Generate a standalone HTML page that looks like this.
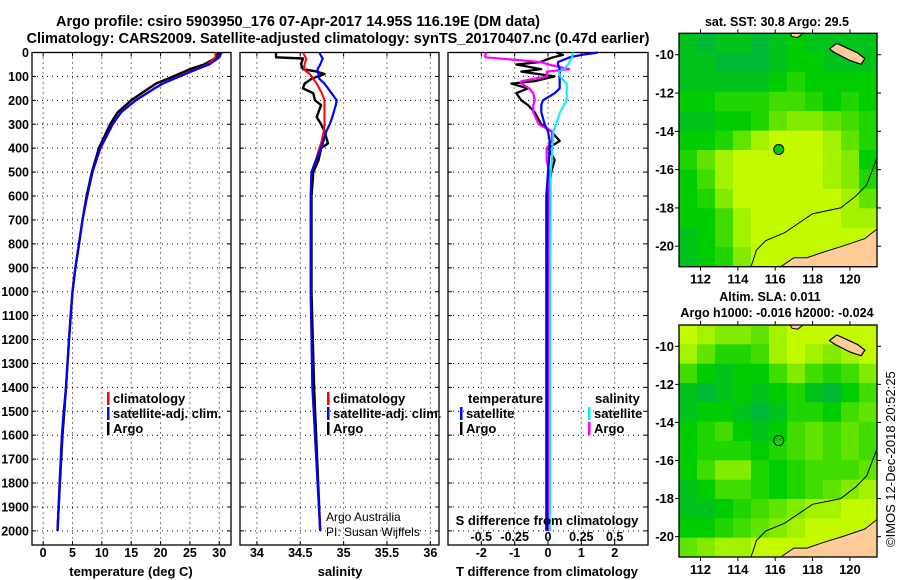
<!DOCTYPE html>
<html><head><meta charset="utf-8">
<style>
html,body{margin:0;padding:0;background:#fff;}
svg{display:block;font-family:"Liberation Sans",Arial,sans-serif;}
</style></head>
<body>
<svg id="c" width="900" height="580" viewBox="0 0 900 580" xmlns="http://www.w3.org/2000/svg">
<text x="298" y="26" text-anchor="middle" font-size="14.5" font-weight="bold" textLength="484" lengthAdjust="spacingAndGlyphs">Argo profile: csiro 5903950_176 07-Apr-2017 14.95S 116.19E (DM data)</text>
<text x="338" y="43" text-anchor="middle" font-size="14.5" font-weight="bold" textLength="623" lengthAdjust="spacingAndGlyphs">Climatology: CARS2009. Satellite-adjusted climatology: synTS_20170407.nc (0.47d earlier)</text>
<g id="g"></g>
</svg>
<script>
// ---------- data ----------
const depthT = [0,20,50,70,100,130,150,200,250,300,400,500,600,700,800,900,1000,1100,1200,1400,1500,1600,1800,2000];
const tempArgo = [29.8,29.6,27.4,25,22.2,19.2,18.0,15.0,12.7,11.4,9.5,8.3,7.4,6.7,6.1,5.5,5.0,4.7,4.4,3.9,3.6,3.3,2.85,2.45];
const tempClim = [29.4,29.3,28.0,26,23.0,20.3,18.9,15.7,13.2,11.9,9.8,8.4,7.5,6.7,6.1,5.5,5.0,4.7,4.4,3.9,3.5,3.2,2.8,2.5];
const tempSat  = [30.4,30.0,28.3,26.2,23.3,20.4,19.0,15.8,13.3,11.8,9.7,8.4,7.5,6.7,6.1,5.5,5.0,4.7,4.4,3.9,3.5,3.2,2.8,2.45];

const depthS = [0,20,25,50,70,80,90,110,130,150,170,200,220,270,300,330,380,400,450,500,600,1000,1400,2000];
const salArgo = [34.22,34.22,34.53,34.51,34.53,34.69,34.78,34.63,34.55,34.53,34.65,34.67,34.74,34.69,34.74,34.78,34.82,34.74,34.71,34.65,34.63,34.63,34.66,34.73];
const salClim = [34.53,34.56,34.57,34.55,34.54,34.57,34.61,34.65,34.69,34.72,34.75,34.78,34.78,34.78,34.78,34.77,34.74,34.72,34.68,34.63,34.62,34.62,34.64,34.73];
const salSat  = [34.72,34.75,34.76,34.73,34.70,34.70,34.71,34.72,34.78,34.82,34.86,34.92,34.91,34.87,34.84,34.80,34.76,34.74,34.68,34.63,34.62,34.62,34.64,34.73];

const depthD = [0,10,20,40,50,70,80,100,120,130,150,170,200,220,250,300,330,370,400,450,500,600,1000,1400,1800,2000];
const tdiffArgo = [0.25,0.45,0.15,-0.25,-0.95,-0.2,-0.8,0.2,-0.4,-1.1,-0.6,-0.95,-0.8,-0.6,-0.4,-0.2,0.1,0.35,0.0,0.2,0.1,0.0,0.0,0.0,0.0,0.0];
const tdiffSat  = [1.5,1.0,0.65,0.3,0.3,0.35,0.35,0.35,0.35,0.35,0.35,0.2,-0.15,-0.2,-0.2,-0.1,0.0,0.05,0.05,0.03,0.0,-0.05,-0.05,-0.05,-0.05,-0.05];
const sdiffArgo = [-0.46,-0.47,-0.47,-0.05,0.0,0.16,-0.01,-0.01,-0.2,-0.2,-0.14,-0.11,-0.1,-0.11,-0.11,-0.07,0.03,0.03,-0.01,-0.01,0.01,0.01,0.01,0.01,0.01,0.01];
const sdiffSat  = [0.19,0.18,0.18,0.16,0.15,0.12,0.08,0.09,0.12,0.14,0.14,0.14,0.14,0.12,0.09,0.06,0.04,0.04,0.03,0.03,0.02,0.02,0.015,0.015,0.015,0.015];

const depthTicks = [0,100,200,300,400,500,600,700,800,900,1000,1100,1200,1300,1400,1500,1600,1700,1800,1900,2000];
const tempTicks = [0,5,10,15,20,25,30];
const salTicks = [34,34.5,35,35.5,36];
const salTickLabels = ["34","34.5","35","35.5","36"];
const tdTicks = [-2,-1,0,1,2];
const sdTicks = [-0.5,-0.25,0,0.25,0.5];
const sdTickLabels = ["-0.5","-0.25","0","0.25","0.5"];
const lonTicks = [112,114,116,118,120];
const latTicks = [-10,-12,-14,-16,-18,-20];

const sstGrid = [
[0.3,0.2,0.3,0.3,0.2,0.3,0.4,0.3,0.3,0.3,0.3],
[0.3,0.3,0.2,0.2,0.2,0.3,0.4,0.4,0.3,0.3,0.3],
[0.3,0.3,0.3,0.3,0.3,0.4,0.5,0.4,0.4,0.4,0.4],
[0.4,0.4,0.5,0.5,0.5,0.6,0.6,0.5,0.4,0.5,0.4],
[0.3,0.3,0.4,0.4,0.5,0.7,0.8,0.8,0.7,0.6,0.5],
[0.4,0.4,0.5,0.7,0.9,1,1,1,0.9,0.7,0.5],
[0.5,0.7,0.9,1,1,1,1,1,0.9,0.8,0.4],
[0.4,0.6,0.9,1,1,1,1,1,0.9,0.8,0.5],
[0.4,0.5,0.8,1,1,1,1,1,1,0.9,0.7],
[0.4,0.4,0.6,0.9,1,1,1,1,1,0.9,0.9],
[0.3,0.4,0.6,0.9,1,1,1,1,1,1,1],
[0.3,0.4,0.5,0.8,1,1,1,1,1,1,1]];
const slaGrid = [
[1,0.9,0.8,0.8,0.7,0.9,1,1,1,1,1],
[0.9,0.7,0.5,0.5,0.6,0.9,1,0.9,0.8,0.9,1],
[0.6,0.4,0.3,0.4,0.4,0.6,0.8,0.6,0.5,0.6,0.8],
[0.3,0.2,0.3,0.4,0.3,0.4,0.5,0.3,0.2,0.4,0.6],
[0.3,0.4,0.4,0.3,0.2,0.3,0.5,0.5,0.4,0.6,0.7],
[0.4,0.5,0.6,0.4,0.3,0.4,0.6,0.7,0.6,0.7,0.6],
[0.4,0.5,0.5,0.5,0.4,0.5,0.6,0.7,0.6,0.7,0.6],
[0.4,0.6,0.8,0.8,0.5,0.4,0.5,0.6,0.6,0.6,0.7],
[0.3,0.4,0.6,0.6,0.5,0.4,0.5,0.6,0.7,0.8,0.9],
[0.3,0.3,0.4,0.5,0.6,0.7,0.8,0.9,0.9,1,1],
[0.4,0.4,0.5,0.6,0.7,0.8,0.9,1,1,1,1],
[0.7,0.8,0.9,0.9,1,1,1,1,1,1,1]];
const coastLon = [121.45,120.9,120.3,119.5,118.0,116.5,115.5,115.0,114.8,114.7];
const coastLat = [-15.4,-16.8,-17.4,-18.0,-18.3,-19.3,-19.7,-20.2,-20.8,-21.07];
const landLon = [116.3,117.0,117.7,118.6,119.6,120.8,121.45,121.45];
const landLat = [-21.07,-20.6,-20.6,-20.3,-20.0,-19.6,-19.1,-21.07];
const islandLon = [118.9,119.3,120.4,120.8,120.6,120.0,119.2];
const islandLat = [-9.7,-9.4,-9.9,-10.2,-10.5,-10.3,-9.9];
const argoLon = 116.19, argoLat = -14.95;

// ---------- drawing ----------
const NS="http://www.w3.org/2000/svg";
const G=document.getElementById('g');
function mk(tag,attrs,parent){const e=document.createElementNS(NS,tag);for(const k in attrs)e.setAttribute(k,attrs[k]);(parent||G).appendChild(e);return e;}
function txt(s,x,y,o,parent){const e=mk('text',Object.assign({x:x,y:y,'font-size':12.5,'font-weight':'bold'},o||{}),parent);e.textContent=s;return e;}

const Y0=52.5, Y1=545, D0=0, D1=2059;
function yD(d){return Y0+(d-D0)/(D1-D0)*(Y1-Y0);}

function panel(name,x0,x1,v0,v1,ticks,grid){
  const g=mk('g',{});
  
  
  const sx=v=>x0+(v-v0)/(v1-v0)*(x1-x0);
  depthTicks.forEach(d=>{ if(d>0) mk('line',{x1:x0,x2:x1,y1:yD(d),y2:yD(d),stroke:'#000','stroke-width':1,'stroke-dasharray':'1,4'},g);
    mk('line',{x1:x0,x2:x0+4,y1:yD(d),y2:yD(d),stroke:'#000'},g); mk('line',{x1:x1-4,x2:x1,y1:yD(d),y2:yD(d),stroke:'#000'},g);});
  grid.forEach(v=>{ mk('line',{x1:sx(v),x2:sx(v),y1:Y0,y2:Y1,stroke:'#000','stroke-width':1,'stroke-dasharray':'1,4'},g);
    mk('line',{x1:sx(v),x2:sx(v),y1:Y0,y2:Y0+4,stroke:'#000'},g); mk('line',{x1:sx(v),x2:sx(v),y1:Y1-4,y2:Y1,stroke:'#000'},g);});
  mk('rect',{x:x0,y:Y0,width:x1-x0,height:Y1-Y0,fill:'none',stroke:'#000','stroke-width':1.3},g);
  return {g,sx};
}
function series(p,vals,depths,color,w,name){
  const pts=vals.map((v,i)=>p.sx(v).toFixed(1)+','+yD(depths[i]).toFixed(1)).join(' ');
  const e=mk('polyline',{points:pts,fill:'none',stroke:color,'stroke-width':w,'stroke-linejoin':'round'},p.g);
  
  
}

// y-axis labels
depthTicks.forEach(d=>{const t=txt(String(d),29,yD(d)+4.5,{'text-anchor':'end'});
  
  });

// panel 1 temperature
const p1=panel('temperature-panel',32,231,-1.9,32,tempTicks,tempTicks);
series(p1,tempArgo,depthT,'#000',2.4,'temperature-argo-line');
series(p1,tempClim,depthT,'#f00',2,'temperature-climatology-line');
series(p1,tempSat,depthT,'#00f',2.2,'temperature-satellite-line');
tempTicks.forEach(v=>{txt(String(v),p1.sx(v),557,{'text-anchor':'middle'});});
txt('temperature (deg C)',131,576,{'text-anchor':'middle','font-size':13});

// panel 2 salinity
const p2=panel('salinity-panel',240,439,33.805,36.1,salTicks,salTicks);
series(p2,salArgo,depthS,'#000',2.4,'salinity-argo-line');
series(p2,salClim,depthS,'#f00',2,'salinity-climatology-line');
series(p2,salSat,depthS,'#00f',2.2,'salinity-satellite-line');
salTicks.forEach((v,i)=>{txt(salTickLabels[i],p2.sx(v),557,{'text-anchor':'middle'});});
txt('salinity',340,576,{'text-anchor':'middle','font-size':13});
txt('Argo Australia',326,521,{'font-weight':'normal','font-size':12});
txt('PI: Susan Wijffels',326,536,{'font-weight':'normal','font-size':12});

// panel 3 differences
const p3=panel('difference-panel',448,648,-3,3,tdTicks,tdTicks);
const p3s={g:p3.g,sx:v=>p3.sx(v*4)};
series(p3,tdiffArgo,depthD,'#000',2.2,'tdiff-argo-line');
series(p3s,sdiffArgo,depthD,'#f0f',2.2,'sdiff-argo-line');
series(p3,tdiffSat,depthD,'#00f',2.2,'tdiff-satellite-line');
series(p3s,sdiffSat,depthD,'#0ef',2,'sdiff-satellite-line');
tdTicks.forEach(v=>{txt(String(v),p3.sx(v),557,{'text-anchor':'middle'});});
sdTicks.forEach((v,i)=>{txt(sdTickLabels[i],p3s.sx(v),541,{'text-anchor':'middle'});});
txt('S difference from climatology',547,525,{'text-anchor':'middle','font-size':13});
txt('T difference from climatology',547,576,{'text-anchor':'middle','font-size':13});

// legends
function leg(x,y,color,label,name){const g=mk('g',{});
  
  
  mk('rect',{x:x,y:y-11,width:2.5,height:13,fill:color},g); txt(label,x+6,y,{'font-size':13},g);}
leg(107,403,'#f00','climatology','legend-temp-climatology');
leg(107,418,'#00f','satellite-adj. clim.','legend-temp-satellite');
leg(107,433,'#000','Argo','legend-temp-argo');
leg(327,403,'#f00','climatology','legend-sal-climatology');
leg(327,418,'#00f','satellite-adj. clim.','legend-sal-satellite');
leg(327,433,'#000','Argo','legend-sal-argo');
txt('temperature',468,403,{'font-size':13});
txt('salinity',595,403,{'font-size':13});
leg(460,418,'#00f','satellite','legend-tdiff-satellite');
leg(460,433,'#000','Argo','legend-tdiff-argo');
leg(588,418,'#0ef','satellite','legend-sdiff-satellite');
leg(588,433,'#f0f','Argo','legend-sdiff-argo');

// maps
function col(v){ // 0 teal-green -> 0.4 green -> 1 yellow-green
  let r,g,b; if(v<0.4){const t=v/0.4;r=0;g=165+t*40;b=110-t*110;} else {const t=(v-0.4)/0.6;r=t*195;g=205+t*45;b=0;}
  return 'rgb('+Math.round(r)+','+Math.round(g)+','+Math.round(b)+')';}
function map(name,mx0,my0,mx1,my1,grid,fillDot,title){
  const LON0=110.85,LON1=121.45,LAT0=-8.88,LAT1=-21.07;
  const sx=l=>mx0+(l-LON0)/(LON1-LON0)*(mx1-mx0), sy=l=>my0+(l-LAT0)/(LAT1-LAT0)*(my1-my0);
  const g=mk('g',{});
  
  
  const rows=grid.length, cols=grid[0].length;
  const cw=(LON1-LON0)/cols, ch=(LAT0-LAT1)/rows;
  grid.forEach((row,i)=>row.forEach((v,j)=>{
    const x=sx(LON0+j*cw), y=sy(LAT0-i*ch);
    const c=mk('rect',{x:x.toFixed(1),y:y.toFixed(1),width:(sx(LON0+(j+1)*cw)-x+0.6).toFixed(1),height:(sy(LAT0-(i+1)*ch)-y+0.6).toFixed(1),fill:col(v)},g);
    
    
  }));
  const poly=(lo,la)=>lo.map((l,i)=>sx(l).toFixed(1)+','+sy(la[i]).toFixed(1)).join(' ');
  mk('polygon',{points:poly(landLon,landLat),fill:'#fc9',stroke:'#000','stroke-width':1},g);
  mk('polygon',{points:poly(islandLon,islandLat),fill:'#fc9',stroke:'#000','stroke-width':1.2},g);
  mk('polygon',{points:poly([116.8,117.5,117.2,116.9],[-8.88,-8.88,-9.1,-9.05]),fill:'#fc9',stroke:'#000','stroke-width':1},g);
  mk('polyline',{points:poly(coastLon,coastLat),fill:'none',stroke:'#000','stroke-width':1},g);
  mk('circle',{cx:sx(argoLon),cy:sy(argoLat),r:5,fill:fillDot,stroke:'#000','stroke-width':1},g);
  mk('rect',{x:mx0,y:my0,width:mx1-mx0,height:my1-my0,fill:'none',stroke:'#000','stroke-width':1.3},g);
  lonTicks.forEach(l=>{mk('line',{x1:sx(l),x2:sx(l),y1:my1,y2:my1+4,stroke:'#000'},g);mk('line',{x1:sx(l),x2:sx(l),y1:my0-4,y2:my0,stroke:'#000'},g);
    txt(String(l),sx(l),my1+17,{'text-anchor':'middle','font-size':13},g);});
  latTicks.forEach(l=>{mk('line',{x1:mx0-4,x2:mx0,y1:sy(l),y2:sy(l),stroke:'#000'},g);mk('line',{x1:mx1,x2:mx1+4,y1:sy(l),y2:sy(l),stroke:'#000'},g);
    txt(String(l),mx0-5,sy(l)+4.5,{'text-anchor':'end','font-size':13},g);});
  title.forEach((t,i)=>txt(t[0],t[1],t[2],{'text-anchor':'middle','font-size':12.5},g));
}
map('sst-map',679,33.3,877,266.7,sstGrid,'#0c0',[['sat. SST: 30.8 Argo: 29.5',777,26]]);
map('sla-map',679,325,877,557,slaGrid,'none',[['Altim. SLA: 0.011',770,301],['Argo h1000: -0.016 h2000: -0.024',777,317]]);
const cp=txt('©IMOS 12-Dec-2018 20:52:25',0,0,{'font-weight':'normal','font-size':13,transform:'translate(895,547) rotate(-90)'});


</script>
</body></html>
